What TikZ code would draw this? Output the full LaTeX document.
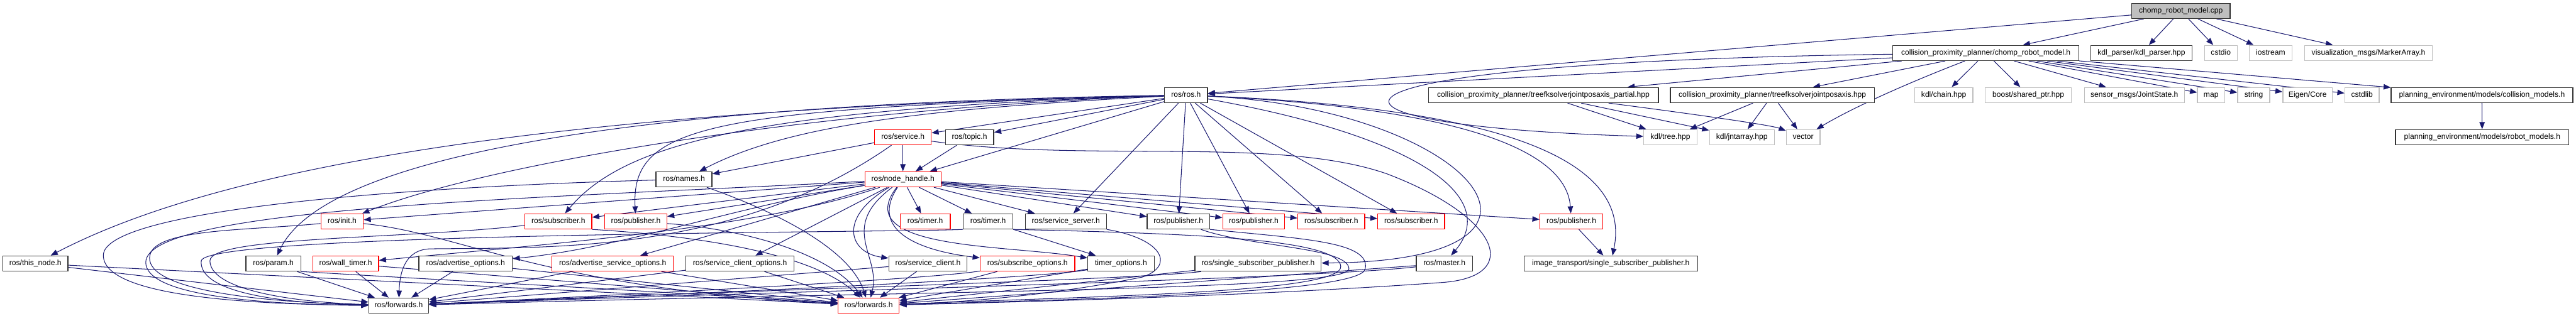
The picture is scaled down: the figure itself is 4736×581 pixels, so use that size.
\documentclass[tikz,border=0pt]{standalone}
\usepackage{fontspec}
\setmainfont{Liberation Sans}
\usepackage{tikz}
\usetikzlibrary{arrows.meta}
\pgfdeclarelayer{edges}
\pgfsetlayers{edges,main}
\definecolor{edgeblue}{RGB}{25,25,112}
\definecolor{sysgray}{RGB}{191,191,191}

\begin{document}
\begin{tikzpicture}[
    x=1pt, y=-1pt,
    box/.style={rectangle, draw=black!80, line width=1.5pt, fill=white, minimum height=28pt, inner xsep=0pt, inner ysep=0pt, text height=10pt, text depth=3pt, font=\fontsize{14}{16}\selectfont},
    trunc/.style={box, draw=red},
    sys/.style={box, draw=sysgray},
    rootbox/.style={box, fill=sysgray},
    dep/.style={draw=edgeblue, line width=1.2pt, -{Triangle[length=13pt, width=10pt]}},
]
\useasboundingbox (0,0) rectangle (4736,581);

% Nodes
\node[rootbox, minimum width=181pt] (root) at (4009.5,20) {chomp\_robot\_model.cpp};

\node[box, minimum width=342pt] (cprm) at (3651,97.5) {collision\_proximity\_planner/chomp\_robot\_model.h};
\node[box, minimum width=186pt] (kdlparser) at (3937,97.5) {kdl\_parser/kdl\_parser.hpp};
\node[sys, minimum width=60pt] (cstdio) at (4083,97.5) {cstdio};
\node[sys, minimum width=79pt] (iostream) at (4174.5,97.5) {iostream};
\node[sys, minimum width=235pt] (marker) at (4354.5,97.5) {visualization\_msgs/MarkerArray.h};

\node[box, minimum width=79pt] (rosh) at (2180.5,175) {ros/ros.h};
\node[box, minimum width=423pt] (tfkp) at (2837.5,175) {collision\_proximity\_planner/treefksolverjointposaxis\_partial.hpp};
\node[box, minimum width=375pt] (tfk) at (3258.5,175) {collision\_proximity\_planner/treefksolverjointposaxis.hpp};
\node[sys, minimum width=107pt] (kdlchain) at (3573.5,175) {kdl/chain.hpp};
\node[sys, minimum width=158pt] (sharedptr) at (3729,175) {boost/shared\_ptr.hpp};
\node[sys, minimum width=184pt] (jointstate) at (3924,175) {sensor\_msgs/JointState.h};
\node[sys, minimum width=50pt] (map) at (4065,175) {map};
\node[sys, minimum width=59pt] (string) at (4143.5,175) {string};
\node[sys, minimum width=91pt] (eigen) at (4242.5,175) {Eigen/Core};
\node[sys, minimum width=63pt] (cstdlib) at (4342.5,175) {cstdlib};
\node[box, minimum width=334pt] (collmodels) at (4563,175) {planning\_environment/models/collision\_models.h};

\node[trunc, minimum width=104pt] (service) at (1660,252.5) {ros/service.h};
\node[box, minimum width=89pt] (topic) at (1782.5,252.5) {ros/topic.h};
\node[sys, minimum width=98pt] (kdltree) at (3071,252.5) {kdl/tree.hpp};
\node[sys, minimum width=119pt] (kdljnt) at (3202.5,252.5) {kdl/jntarray.hpp};
\node[sys, minimum width=62pt] (vector) at (3315,252.5) {vector};
\node[box, minimum width=319pt] (robotmodels) at (4563.5,252.5) {planning\_environment/models/robot\_models.h};

\node[box, minimum width=103pt] (names) at (1257.5,330) {ros/names.h};
\node[trunc, minimum width=140pt] (nh) at (1660,330) {ros/node\_handle.h};

\node[trunc, minimum width=78pt] (init) at (629,407.5) {ros/init.h};
\node[trunc, minimum width=123pt] (sub1) at (1026.5,407.5) {ros/subscriber.h};
\node[trunc, minimum width=114pt] (pub1) at (1169,407.5) {ros/publisher.h};
\node[trunc, minimum width=92pt] (timerR) at (1701,407.5) {ros/timer.h};
\node[box, minimum width=91pt] (timerB) at (1816.5,407.5) {ros/timer.h};
\node[box, minimum width=149pt] (srvserver) at (1959.5,407.5) {ros/service\_server.h};
\node[box, minimum width=115pt] (pubB) at (2166.5,407.5) {ros/publisher.h};
\node[trunc, minimum width=114pt] (pubR1) at (2305,407.5) {ros/publisher.h};
\node[trunc, minimum width=123pt] (subR1) at (2447.5,407.5) {ros/subscriber.h};
\node[trunc, minimum width=123pt] (subR2) at (2594.5,407.5) {ros/subscriber.h};
\node[trunc, minimum width=116pt] (pubR2) at (2889,407.5) {ros/publisher.h};

\node[box, minimum width=120pt] (thisnode) at (65,485) {ros/this\_node.h};
\node[box, minimum width=101pt] (param) at (502.5,485) {ros/param.h};
\node[trunc, minimum width=121pt] (walltimer) at (635.5,485) {ros/wall\_timer.h};
\node[box, minimum width=172pt] (advopts) at (856,485) {ros/advertise\_options.h};
\node[trunc, minimum width=223pt] (advsrvopts) at (1126.5,485) {ros/advertise\_service\_options.h};
\node[box, minimum width=199pt] (srvclientopts) at (1360.5,485) {ros/service\_client\_options.h};
\node[box, minimum width=144pt] (srvclient) at (1706,485) {ros/service\_client.h};
\node[trunc, minimum width=174pt] (subopts) at (1889,485) {ros/subscribe\_options.h};
\node[box, minimum width=122pt] (timeropts) at (2061,485) {timer\_options.h};
\node[box, minimum width=232pt] (ssp) at (2313,485) {ros/single\_subscriber\_publisher.h};
\node[box, minimum width=103pt] (master) at (2655.5,485) {ros/master.h};
\node[box, minimum width=319pt] (imgssp) at (2961.5,485) {image\_transport/single\_subscriber\_publisher.h};

\node[box, minimum width=110pt] (fwdB) at (733,562.5) {ros/forwards.h};
\node[trunc, minimum width=112pt] (fwdR) at (1597,562.5) {ros/forwards.h};

\begin{pgfonlayer}{edges}
% chomp_robot_model.cpp
\draw[dep] (root) -- (cprm);
\draw[dep] (root) -- (kdlparser);
\draw[dep] (root) -- (cstdio);
\draw[dep] (root) -- (iostream);
\draw[dep] (root) -- (marker);
\draw[dep] (root) -- (rosh);

% chomp_robot_model.h
\draw[dep] (cprm) -- (rosh);
\draw[dep] (cprm) -- (tfkp);
\draw[dep] (cprm) -- (tfk);
\draw[dep] (cprm) -- (kdlchain);
\draw[dep] (cprm) -- (sharedptr);
\draw[dep] (cprm) -- (jointstate);
\draw[dep] (cprm) -- (map);
\draw[dep] (cprm) -- (string);
\draw[dep] (cprm) -- (eigen);
\draw[dep] (cprm) -- (cstdlib);
\draw[dep] (cprm) -- (collmodels);
\draw[dep] (cprm) .. controls (3540,140) and (3420,190) .. (vector);
\draw[dep] (cprm) .. controls (2350,115) and (2330,230) .. (kdltree);

% tree fk solvers, planning environment
\draw[dep] (tfkp) -- (kdltree);
\draw[dep] (tfkp) -- (kdljnt);
\draw[dep] (tfkp) .. controls (3000,195) and (3250,228) .. (vector);
\draw[dep] (tfk) -- (kdltree);
\draw[dep] (tfk) -- (kdljnt);
\draw[dep] (tfk) -- (vector);
\draw[dep] (collmodels) -- (robotmodels);

% ros/ros.h
\draw[dep] (rosh) -- (service);
\draw[dep] (rosh) -- (topic);
\draw[dep] (rosh) -- (nh);
\draw[dep] (rosh) .. controls (1700,200) and (1450,230) .. (names);
\draw[dep] (rosh) .. controls (1500,200) and (900,300) .. (init);
\draw[dep] (rosh) .. controls (1400,200) and (1150,260) .. (sub1);
\draw[dep] (rosh) .. controls (1300,200) and (1160,230) .. (pub1);
\draw[dep] (rosh) .. controls (1200,190) and (600,280) .. (param);
\draw[dep] (rosh) .. controls (1000,200) and (400,310) .. (thisnode);
\draw[dep] (rosh) -- (srvserver);
\draw[dep] (rosh) -- (pubB);
\draw[dep] (rosh) -- (pubR1);
\draw[dep] (rosh) -- (subR1);
\draw[dep] (rosh) -- (subR2);
\draw[dep] (rosh) .. controls (2700,200) and (2880,280) .. (pubR2);
\draw[dep] (rosh) .. controls (2780,200) and (3000,300) .. (imgssp);
\draw[dep] (rosh) .. controls (2600,250) and (2760,360) .. (master);
\draw[dep] (rosh) .. controls (2700,200) and (2950,480) .. (ssp);

% ros/service.h, ros/topic.h, ros/names.h
\draw[dep] (service) -- (nh);
\draw[dep] (service) -- (names);
\draw[dep] (topic) -- (nh);
\draw[dep] (service) .. controls (1350,470) and (1000,455) .. (790,458) .. controls (745,460) and (735,500) .. (fwdB);
\draw[dep] (service) .. controls (2000,300) and (2350,250) .. (2550,320) .. controls (2760,400) and (2800,510) .. (2650,520) .. controls (2300,545) and (1900,555) .. (fwdR);
\draw[dep] (names) .. controls (700,345) and (190,390) .. (190,470) .. controls (190,545) and (450,560) .. (fwdB);
\draw[dep] (names) .. controls (1400,380) and (1560,450) .. (fwdR);

% ros/node_handle.h
\draw[dep] (nh) -- (init);
\draw[dep] (nh) -- (sub1);
\draw[dep] (nh) -- (pub1);
\draw[dep] (nh) -- (timerR);
\draw[dep] (nh) -- (timerB);
\draw[dep] (nh) -- (srvserver);
\draw[dep] (nh) -- (pubB);
\draw[dep] (nh) -- (pubR1);
\draw[dep] (nh) -- (subR1);
\draw[dep] (nh) -- (subR2);
\draw[dep] (nh) -- (pubR2);
\draw[dep] (nh) .. controls (1400,420) and (1000,450) .. (walltimer);
\draw[dep] (nh) .. controls (1350,380) and (1150,455) .. (advopts);
\draw[dep] (nh) -- (advsrvopts);
\draw[dep] (nh) -- (srvclientopts);
\draw[dep] (nh) .. controls (1540,400) and (1560,465) .. (srvclient);
\draw[dep] (nh) .. controls (1600,420) and (1680,460) .. (subopts);
\draw[dep] (nh) .. controls (1560,460) and (1850,450) .. (timeropts);
\draw[dep] (nh) .. controls (1000,365) and (268,380) .. (268,483) .. controls (268,540) and (450,560) .. (fwdB);
\draw[dep] (nh) .. controls (1540,420) and (1620,470) .. (fwdR);

% ros/init.h, ros/subscriber.h, ros/publisher.h
\draw[dep] (init) .. controls (450,425) and (275,420) .. (275,475) .. controls (275,530) and (450,555) .. (fwdB);
\draw[dep] (init) .. controls (850,430) and (1000,530) .. (fwdR);
\draw[dep] (sub1) .. controls (750,440) and (386,435) .. (386,480) .. controls (386,530) and (520,555) .. (fwdB);
\draw[dep] (sub1.south east) .. controls (1300,435) and (1500,470) .. (fwdR);
\draw[dep] (pub1) .. controls (1350,420) and (1520,460) .. (fwdR);

% timers, servers, publishers
\draw[dep] (timerB) -- (timeropts);
\draw[dep] (timerB.south west) .. controls (1650,428) and (380,428) .. (370,480) .. controls (365,535) and (500,558) .. (fwdB);
\draw[dep] (timerB.south east) .. controls (2200,430) and (2460,440) .. (2465,490) .. controls (2470,540) and (2000,545) .. (fwdR);
\draw[dep] (srvserver.south east) .. controls (2140,440) and (2160,490) .. (2100,510) .. controls (1950,540) and (1800,555) .. (fwdR);
\draw[dep] (pubB.south east) .. controls (2400,440) and (2520,445) .. (2510,495) .. controls (2500,540) and (2000,550) .. (fwdR);
\draw[dep] (pubB) .. controls (2300,455) and (2480,455) .. (2480,495) .. controls (2480,535) and (1700,535) .. (fwdB);
\draw[dep] (pubR2) -- (imgssp);

% bottom row of headers
\draw[dep] (thisnode) -- (fwdB);
\draw[dep] (thisnode) -- (fwdR);
\draw[dep] (param) -- (fwdB);
\draw[dep] (param.south east) .. controls (800,515) and (1200,535) .. (fwdR);
\draw[dep] (walltimer) -- (fwdB);
\draw[dep] (walltimer) -- (fwdR);
\draw[dep] (advopts) -- (fwdB);
\draw[dep] (advopts) -- (fwdR);
\draw[dep] (advsrvopts) -- (fwdB);
\draw[dep] (advsrvopts) -- (fwdR);
\draw[dep] (srvclientopts) -- (fwdB);
\draw[dep] (srvclientopts) -- (fwdR);
\draw[dep] (srvclient) -- (fwdB);
\draw[dep] (srvclient) -- (fwdR);
\draw[dep] (subopts) .. controls (1700,515) and (1100,545) .. (fwdB);
\draw[dep] (subopts) -- (fwdR);
\draw[dep] (timeropts) .. controls (1900,515) and (1100,548) .. (fwdB);
\draw[dep] (timeropts) -- (fwdR);
\draw[dep] (ssp) .. controls (2100,515) and (1200,540) .. (fwdB);
\draw[dep] (ssp) -- (fwdR);
\draw[dep] (master) .. controls (2400,515) and (1300,540) .. (fwdB);
\draw[dep] (master) -- (fwdR);
\end{pgfonlayer}

\end{tikzpicture}
\end{document}
